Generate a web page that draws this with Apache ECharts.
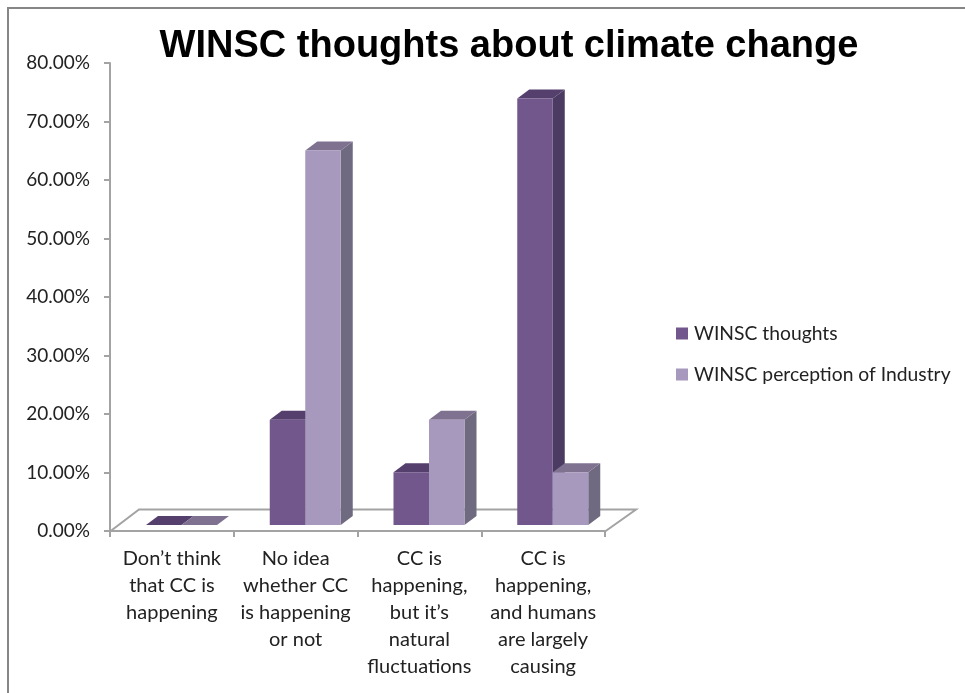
<!DOCTYPE html>
<html>
<head>
<meta charset="utf-8">
<style>html,body{margin:0;padding:0;background:#fff}#c{width:965px;height:693px}</style>
<script src="https://cdn.jsdelivr.net/npm/echarts@6/dist/echarts.min.js"></script>
</head>
<body>
<div id="c"></div>
<script>
const chartTitle = 'WINSC thoughts about climate change';
const categories = ['Don’t think\nthat CC is\nhappening', 'No idea\nwhether CC\nis happening\nor not', 'CC is\nhappening,\nbut it’s\nnatural\nfluctuations', 'CC is\nhappening,\nand humans\nare largely\ncausing'];
const seriesNames = ['WINSC thoughts', 'WINSC perception of Industry'];
const thoughts = [0, 18, 9, 72.9];
const industry = [0, 64, 18, 9];

const FONT = 'Lato, "Open Sans", sans-serif';
const GREY = '#a3a3a3';
const palette = [
  {front: '#72578d', top: '#553f6d', side: '#4b3a61'},
  {front: '#a798bd', top: '#7f7291', side: '#6f6a80'}
];
const depthX = 12, depthY = 9, baseLift = 6, barW = 35.5, barStart = 36;

function barRenderer(idx) {
  const c = palette[idx];
  return function (params, api) {
    const cat = api.value(0);
    const bandW = api.size([1, 0])[0];
    const p0 = api.coord([cat, 0]);
    const p1 = api.coord([cat, api.value(1)]);
    const xl = p0[0] - bandW / 2 + barStart + idx * barW;
    const xr = xl + barW;
    const yb = p0[1] - baseLift;
    const yt = p1[1] - baseLift;
    const poly = (pts, fill) => ({type: 'polygon', shape: {points: pts}, style: {fill: fill, stroke: null}});
    return {type: 'group', children: [
      poly([[xr, yb], [xr + depthX, yb - depthY], [xr + depthX, yt - depthY], [xr, yt]], c.side),
      poly([[xl, yt], [xr, yt], [xr + depthX, yt - depthY], [xl + depthX, yt - depthY]], c.top),
      poly([[xl, yb], [xr, yb], [xr, yt], [xl, yt]], c.front)
    ]};
  };
}

function floorRenderer(params) {
  const g = params.coordSys;
  const xL = g.x, xR = g.x + g.width, yF = g.y + g.height + 0.5;
  return {type: 'polyline', shape: {points: [[xL, yF], [xL + 29, yF - 22], [xR + 31, yF - 22], [xR, yF]]},
    style: {fill: null, stroke: GREY, lineWidth: 2}};
}

const chart = echarts.init(document.getElementById('c'), null, {renderer: 'canvas'});
chart.setOption({
  animation: false,
  backgroundColor: '#fff',
  title: {text: chartTitle, left: 504, top: 23, textAlign: 'center',
    textStyle: {fontFamily: '"Liberation Sans", Arial, sans-serif', fontWeight: 'bold', fontSize: 38, color: '#000'}},
  grid: {left: 110, top: 63, width: 495, height: 468},
  legend: {orient: 'vertical', left: 671, top: 319, itemWidth: 12, itemHeight: 12, itemGap: 22,
    data: seriesNames, icon: 'rect', selectedMode: false,
    textStyle: {fontFamily: FONT, fontSize: 19.3, color: '#222', padding: [0, 0, 0, 1]}},
  xAxis: {type: 'category', data: categories, boundaryGap: true,
    axisLine: {show: true, lineStyle: {color: GREY, width: 2}},
    axisTick: {show: true, alignWithLabel: false, length: 6, lineStyle: {color: GREY, width: 2}},
    axisLabel: {interval: 0, margin: 14, fontFamily: FONT, fontSize: 20, lineHeight: 27, color: '#222'}},
  yAxis: {type: 'value', min: 0, max: 80, interval: 10,
    splitLine: {show: false},
    axisLine: {show: true, lineStyle: {color: GREY, width: 2}},
    axisTick: {show: true, length: 6, lineStyle: {color: GREY, width: 2}},
    axisLabel: {margin: 20, fontFamily: FONT, fontSize: 19, color: '#222', padding: [4, 0, 0, 0], formatter: v => v.toFixed(2) + '%'}},
  graphic: [
    {type: 'polyline', silent: true, shape: {points: [[8, 693], [8, 8], [965, 8]]},
      style: {fill: null, stroke: '#868686', lineWidth: 2}}
  ],
  series: [
    {type: 'custom', name: 'floor', renderItem: floorRenderer, data: [[0, 0]], clip: false, silent: true, z: 1},
    {type: 'custom', name: seriesNames[0], renderItem: barRenderer(0), clip: false, z: 2,
      itemStyle: {color: palette[0].front}, encode: {x: 0, y: 1},
      data: thoughts.map((v, i) => [i, v])},
    {type: 'custom', name: seriesNames[1], renderItem: barRenderer(1), clip: false, z: 3,
      itemStyle: {color: palette[1].front}, encode: {x: 0, y: 1},
      data: industry.map((v, i) => [i, v])}
  ]
});
</script>
</body>
</html>
